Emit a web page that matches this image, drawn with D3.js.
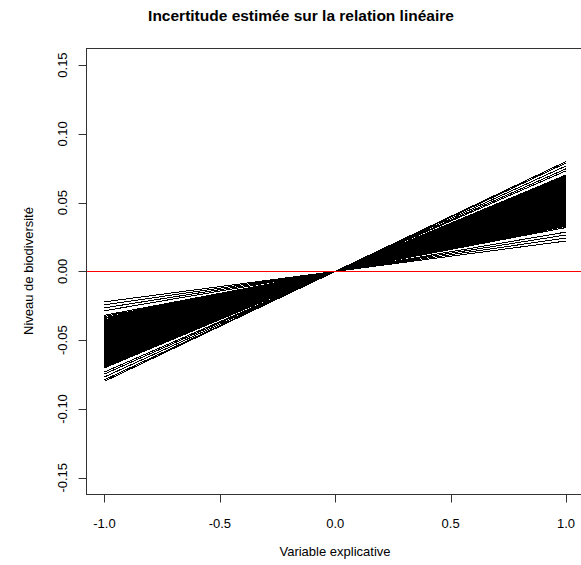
<!DOCTYPE html>
<html>
<head>
<meta charset="utf-8">
<script src="https://cdn.jsdelivr.net/npm/d3@7"></script>
<style>
  body { margin: 0; background: #fff; }
  text { font-family: "Liberation Sans", Arial, sans-serif; fill: #000; }
</style>
</head>
<body>
<svg id="chart" width="581" height="565"></svg>
<script>
const width = 581;
const height = 565;

// x extent of every fitted line
const xRange = [-1, 1];

// slopes of the sampled regression lines (all pass through the origin)
const slopes = [
    0.0799, 0.0788, 0.0767, 0.0746, 0.0731,
    0.0701, 0.0698, 0.0694, 0.0689, 0.0687, 0.0682, 0.0679, 0.0674, 0.0671, 0.0668,
    0.0663, 0.0661, 0.0655, 0.0652, 0.0649, 0.0644, 0.0641, 0.0636, 0.0633, 0.0629,
    0.0624, 0.0622, 0.0617, 0.0613, 0.0610, 0.0604, 0.0601, 0.0597, 0.0592, 0.0590,
    0.0584, 0.0581, 0.0577, 0.0573, 0.0569, 0.0564, 0.0561, 0.0556, 0.0553, 0.0548,
    0.0545, 0.0541, 0.0537, 0.0532, 0.0529, 0.0524, 0.0521, 0.0517, 0.0512, 0.0509,
    0.0504, 0.0501, 0.0496, 0.0493, 0.0488, 0.0485, 0.0481, 0.0476, 0.0473, 0.0468,
    0.0465, 0.0460, 0.0457, 0.0452, 0.0449, 0.0444, 0.0441, 0.0436, 0.0433, 0.0428,
    0.0425, 0.0420, 0.0417, 0.0412, 0.0408, 0.0404, 0.0400, 0.0395, 0.0391, 0.0386,
    0.0379, 0.0372, 0.0366, 0.0358, 0.0351, 0.0343, 0.0336, 0.0328, 0.0319,
    0.0286, 0.0265, 0.0243, 0.0221
];

const xTicks = [-1.0, -0.5, 0.0, 0.5, 1.0];
const yTicks = [-0.15, -0.10, -0.05, 0.00, 0.05, 0.10, 0.15];

const title = "Incertitude estimée sur la relation linéaire";
const xLabel = "Variable explicative";
const yLabel = "Niveau de biodiversité";

const svg = d3.select("#chart");

// plot region (right edge runs past the picture, as in the original)
const x = d3.scaleLinear().domain([-1.08, 1.08]).range([86, 584.5]);
const y = d3.scaleLinear().domain([-0.1618, 0.1624]).range([494, 48]);

// regression lines
svg.append("g")
    .selectAll("line")
    .data(slopes)
    .join("line")
    .attr("x1", x(xRange[0]))
    .attr("x2", x(xRange[1]))
    .attr("y1", d => y(d * xRange[0]))
    .attr("y2", d => y(d * xRange[1]))
    .attr("stroke", "#000")
    .attr("stroke-width", 1)
    .attr("shape-rendering", "crispEdges");

// horizontal reference line at 0
svg.append("line")
    .attr("x1", x.range()[0])
    .attr("x2", x.range()[1])
    .attr("y1", Math.round(y(0)) + 0.5)
    .attr("y2", Math.round(y(0)) + 0.5)
    .attr("stroke", "red")
    .attr("stroke-width", 1);

// box
svg.append("rect")
    .attr("x", 86.5)
    .attr("y", 48.5)
    .attr("width", 584.5 - 86)
    .attr("height", 494 - 48)
    .attr("fill", "none")
    .attr("stroke", "#333")
    .attr("stroke-width", 1);

// x axis
const xAxis = svg.append("g").attr("transform", "translate(0, 494.5)");
xAxis.selectAll("line")
    .data(xTicks)
    .join("line")
    .attr("x1", d => Math.round(x(d)) + 0.5)
    .attr("x2", d => Math.round(x(d)) + 0.5)
    .attr("y1", 0)
    .attr("y2", 8)
    .attr("stroke", "#333");
xAxis.selectAll("text")
    .data(xTicks)
    .join("text")
    .attr("x", d => x(d))
    .attr("y", 33)
    .attr("text-anchor", "middle")
    .attr("font-size", "13px")
    .text(d => d3.format(".1f")(d).replace("−", "-"));

// y axis
const yAxis = svg.append("g").attr("transform", "translate(86.5, 0)");
yAxis.selectAll("line")
    .data(yTicks)
    .join("line")
    .attr("x1", -8)
    .attr("x2", 0)
    .attr("y1", d => Math.round(y(d)) + 0.5)
    .attr("y2", d => Math.round(y(d)) + 0.5)
    .attr("stroke", "#333");
yAxis.selectAll("text")
    .data(yTicks)
    .join("text")
    .attr("transform", d => `translate(-20, ${y(d)}) rotate(-90)`)
    .attr("text-anchor", "middle")
    .attr("font-size", "13px")
    .text(d => d3.format(".2f")(d).replace("−", "-"));

// titles
svg.append("text")
    .attr("x", 301)
    .attr("y", 21)
    .attr("text-anchor", "middle")
    .attr("font-size", "15.5px")
    .attr("font-weight", "bold")
    .text(title);

svg.append("text")
    .attr("x", 335)
    .attr("y", 556)
    .attr("text-anchor", "middle")
    .attr("font-size", "13px")
    .text(xLabel);

svg.append("text")
    .attr("transform", `translate(33, ${(48 + 494) / 2}) rotate(-90)`)
    .attr("text-anchor", "middle")
    .attr("font-size", "13px")
    .text(yLabel);
</script>
</body>
</html>
